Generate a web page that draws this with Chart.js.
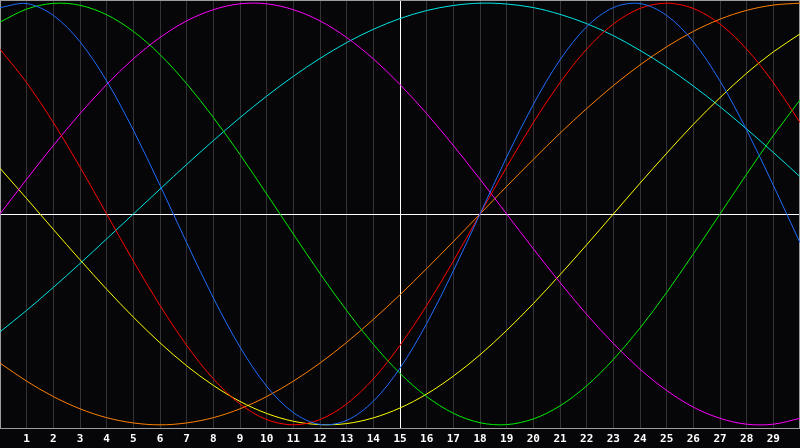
<!DOCTYPE html>
<html>
<head>
<meta charset="utf-8">
<title>Biorhythm</title>
<script src="https://cdn.jsdelivr.net/npm/chart.js@4"></script>
<style>
  html, body { margin: 0; padding: 0; background: #060608; }
  canvas { display: block; }
</style>
</head>
<body>
<canvas id="chart" width="800" height="448"></canvas>
<script>
// days shown across the chart (0 = left edge, 30 = right edge)
const days = [0, 1, 2, 3, 4, 5, 6, 7, 8, 9, 10, 11, 12, 13, 14, 15, 16, 17, 18, 19, 20, 21, 22, 23, 24, 25, 26, 27, 28, 29, 30];
const tickLabels = ["1", "2", "3", "4", "5", "6", "7", "8", "9", "10", "11", "12", "13", "14", "15", "16", "17", "18", "19", "20", "21", "22", "23", "24", "25", "26", "27", "28", "29"];
const markedDay = 15;

// values, one per day (-1 .. 1)
const blue23 = [0.979, 0.998, 0.942, 0.817, 0.631, 0.398, 0.136, -0.136, -0.398, -0.631, -0.817, -0.942, -0.998, -0.979, -0.888, -0.731, -0.520, -0.270, 0.000, 0.270, 0.520, 0.731, 0.888, 0.979, 0.998, 0.942, 0.817, 0.631, 0.398, 0.136, -0.136];
const red28 = [0.782, 0.623, 0.434, 0.223, 0.000, -0.223, -0.434, -0.623, -0.782, -0.901, -0.975, -1.000, -0.975, -0.901, -0.782, -0.623, -0.434, -0.223, 0.000, 0.223, 0.434, 0.623, 0.782, 0.901, 0.975, 1.000, 0.975, 0.901, 0.782, 0.623, 0.434];
const green33 = [0.910, 0.972, 0.999, 0.990, 0.945, 0.866, 0.756, 0.618, 0.458, 0.282, 0.095, -0.095, -0.282, -0.458, -0.618, -0.756, -0.866, -0.945, -0.990, -0.999, -0.972, -0.910, -0.815, -0.690, -0.541, -0.372, -0.189, 0.000, 0.189, 0.372, 0.541];
const magenta38 = [0.000, 0.165, 0.325, 0.476, 0.614, 0.736, 0.837, 0.916, 0.969, 0.997, 0.997, 0.969, 0.916, 0.837, 0.736, 0.614, 0.476, 0.325, 0.165, 0.000, -0.165, -0.325, -0.476, -0.614, -0.736, -0.837, -0.916, -0.969, -0.997, -0.997, -0.969];
const yellow43 = [0.217, 0.073, -0.073, -0.217, -0.357, -0.489, -0.611, -0.720, -0.813, -0.889, -0.946, -0.983, -0.999, -0.994, -0.967, -0.920, -0.854, -0.769, -0.668, -0.552, -0.425, -0.288, -0.146, 0.000, 0.146, 0.288, 0.425, 0.552, 0.668, 0.769, 0.854];
const orange48 = [-0.707, -0.793, -0.866, -0.924, -0.966, -0.991, -1.000, -0.991, -0.966, -0.924, -0.866, -0.793, -0.707, -0.609, -0.500, -0.383, -0.259, -0.131, 0.000, 0.131, 0.259, 0.383, 0.500, 0.609, 0.707, 0.793, 0.866, 0.924, 0.966, 0.991, 1.000];
const cyan53 = [-0.559, -0.457, -0.348, -0.235, -0.118, 0.000, 0.118, 0.235, 0.348, 0.457, 0.559, 0.653, 0.738, 0.813, 0.876, 0.927, 0.965, 0.989, 1.000, 0.996, 0.979, 0.947, 0.903, 0.846, 0.776, 0.697, 0.607, 0.509, 0.403, 0.292, 0.177];

const series = [
  { values: blue23, color: "#1e6cff" },
  { values: red28, color: "#ff0000" },
  { values: green33, color: "#00ee00" },
  { values: magenta38, color: "#ff00ff" },
  { values: yellow43, color: "#ffff00" },
  { values: orange48, color: "#ff8000" },
  { values: cyan53, color: "#00e5e5" },
];

// black background, white cross lines and grey frame
const framePlugin = {
  id: "frame",
  beforeDraw(chart) {
    const ctx = chart.ctx;
    ctx.save();
    ctx.fillStyle = "#060608";
    ctx.fillRect(0, 0, chart.width, chart.height);
    ctx.restore();
  },
  beforeDatasetsDraw(chart) {
    const { ctx, chartArea: a, scales } = chart;
    const mx = Math.round(scales.x.getPixelForValue(markedDay)) + 0.5;
    const my = Math.round(scales.y.getPixelForValue(0)) + 0.5;
    ctx.save();
    ctx.lineWidth = 1;
    ctx.strokeStyle = "#ffffff";
    ctx.beginPath();
    ctx.moveTo(mx, a.top);
    ctx.lineTo(mx, a.bottom);
    ctx.moveTo(a.left, my);
    ctx.lineTo(a.right, my);
    ctx.stroke();
    ctx.strokeStyle = "#9c9c9c";
    ctx.strokeRect(a.left + 0.5, a.top + 0.5, a.width - 1, a.height);
    ctx.restore();
  },
};

new Chart(document.getElementById("chart"), {
  type: "line",
  data: {
    datasets: series.map((s) => ({
      data: days.map((d, i) => ({ x: d, y: s.values[i] })),
      borderColor: s.color,
      borderWidth: 1,
      pointRadius: 0,
      pointHoverRadius: 0,
      tension: 0.33,
      fill: false,
    })),
  },
  options: {
    responsive: false,
    animation: false,
    devicePixelRatio: 1,
    layout: { padding: 0, autoPadding: false },
    plugins: {
      legend: { display: false },
      tooltip: { enabled: false },
    },
    scales: {
      x: {
        type: "linear",
        min: 0,
        max: 30,
        // fixed label strip, plot runs edge to edge
        afterFit: (scale) => {
          scale.height = 20;
          scale.paddingLeft = 0;
          scale.paddingRight = 0;
        },
        grid: { color: "#333336", drawTicks: false },
        border: { display: false },
        ticks: {
          stepSize: 1,
          autoSkip: false,
          maxRotation: 0,
          padding: 5,
          color: "#ffffff",
          font: { family: "'DejaVu Sans Mono'", size: 11, weight: "bold" },
          callback: (value) => tickLabels[value - 1] || "",
        },
      },
      y: {
        display: false,
        min: -1.015,
        max: 1.015,
      },
    },
  },
  plugins: [framePlugin],
});
</script>
</body>
</html>
